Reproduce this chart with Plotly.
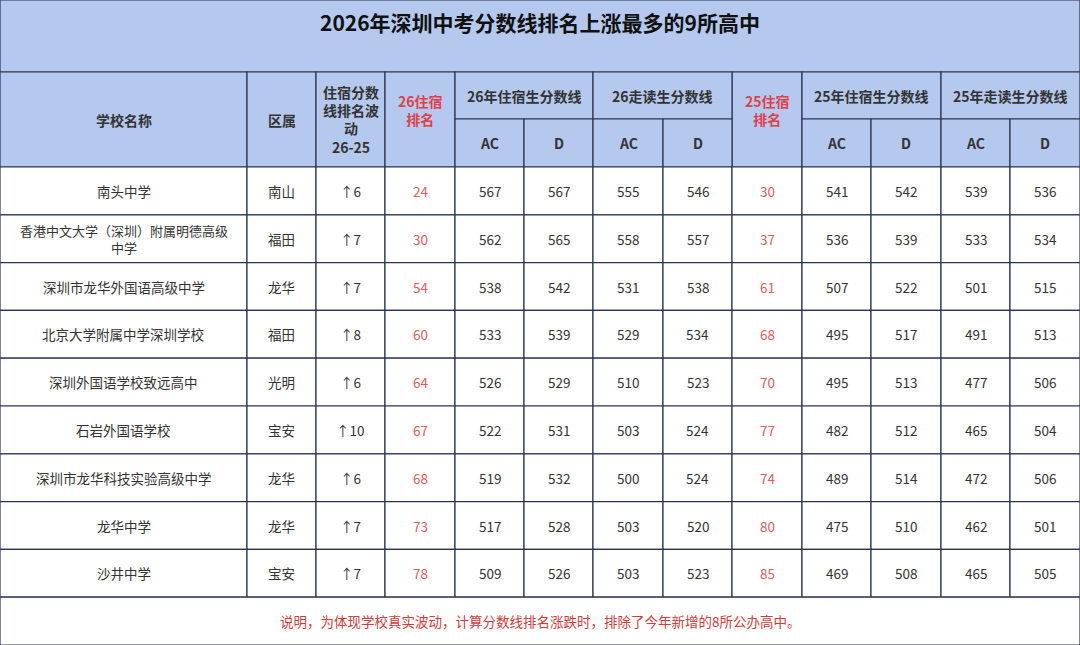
import plotly.graph_objects as go

title = "2026年深圳中考分数线排名上涨最多的9所高中"
schools = ["南头中学", "香港中文大学（深圳）附属明德高级<br>中学", "深圳市龙华外国语高级中学", "北京大学附属中学深圳学校",
           "深圳外国语学校致远高中", "石岩外国语学校", "深圳市龙华科技实验高级中学", "龙华中学", "沙井中学"]
districts = ["南山", "福田", "龙华", "福田", "光明", "宝安", "龙华", "龙华", "宝安"]
change = [6, 7, 7, 8, 6, 10, 6, 7, 7]
rank26 = [24, 30, 54, 60, 64, 67, 68, 73, 78]
b26_ac = [567, 562, 538, 533, 526, 522, 519, 517, 509]
b26_d = [567, 565, 542, 539, 529, 531, 532, 528, 526]
w26_ac = [555, 558, 531, 529, 510, 503, 500, 503, 503]
w26_d = [546, 557, 538, 534, 523, 524, 524, 520, 523]
rank25 = [30, 37, 61, 68, 70, 77, 74, 80, 85]
b25_ac = [541, 536, 507, 495, 495, 482, 489, 475, 469]
b25_d = [542, 539, 522, 517, 513, 512, 514, 510, 508]
w25_ac = [539, 533, 501, 491, 477, 465, 472, 462, 465]
w25_d = [536, 534, 515, 513, 506, 504, 506, 501, 505]
note = "说明，为体现学校真实波动，计算分数线排名涨跌时，排除了今年新增的8所公办高中。"

W, H = 1080, 645
xs = [0, 247, 316, 385, 455, 524, 593, 663, 732, 802, 871, 941, 1010, 1080]
y_title, y_head, y_sub, y_rows = 0, 72, 119, 167
row_h = 47.8
y_note = y_rows + row_h * len(schools)

HEAD = "#b5c8ee"
LINE = "#2b3550"
RED = "#e0404a"
RED2 = "#d9605a"
TXT = "#333333"
FONT = "Noto Sans CJK SC"

shapes, ann = [], []

def cell(x0, y0, x1, y1, fill):
    shapes.append(dict(type="rect", x0=x0, x1=x1, y0=y0, y1=y1, fillcolor=fill,
                       line=dict(color=LINE, width=1.2), layer="below"))

def text(x, y, t, size=13, color=TXT, bold=False):
    ann.append(dict(x=x, y=y, text=f"<b>{t}</b>" if bold else t, showarrow=False,
                    font=dict(size=size, color=color, family=FONT), xanchor="center", yanchor="middle"))

cell(0, y_title, W, y_head, HEAD)
text(W / 2, (y_title + y_head) / 2 - 14, title, size=21, color="#111111", bold=True)

full = {0: ("学校名称", TXT), 1: ("区属", TXT), 2: ("住宿分数<br>线排名波<br>动<br>26-25", TXT),
        3: ("26住宿<br>排名", RED), 8: ("25住宿<br>排名", RED)}
for i, (t, c) in full.items():
    cell(xs[i], y_head, xs[i + 1], y_rows, HEAD)
    text((xs[i] + xs[i + 1]) / 2, (y_head + y_rows) / 2 - (10 if i in (3, 8) else 0), t, size=14, color=c, bold=True)
groups = [(4, "26年住宿生分数线"), (6, "26走读生分数线"), (9, "25年住宿生分数线"), (11, "25年走读生分数线")]
for i, t in groups:
    cell(xs[i], y_head, xs[i + 2], y_sub, HEAD)
    text((xs[i] + xs[i + 2]) / 2, (y_head + y_sub) / 2, t, size=14, bold=True)
    for j, s in enumerate(["AC", "D"]):
        cell(xs[i + j], y_sub, xs[i + j + 1], y_rows, HEAD)
        text((xs[i + j] + xs[i + j + 1]) / 2, (y_sub + y_rows) / 2, s, size=14, bold=True)

cols = [schools, districts, ["↑" + str(v) for v in change], rank26, b26_ac, b26_d, w26_ac, w26_d,
        rank25, b25_ac, b25_d, w25_ac, w25_d]
for r in range(len(schools)):
    y0 = y_rows + r * row_h
    for c, vals in enumerate(cols):
        cell(xs[c], y0, xs[c + 1], y0 + row_h, "white")
        color = RED2 if c in (3, 8) else TXT
        size = 13 if (c == 0 and "<br>" in str(vals[r])) else 13.5
        text((xs[c] + xs[c + 1]) / 2, y0 + row_h / 2, str(vals[r]), size=size, color=color)

cell(0, y_note, W, H, "white")
text(W / 2, (y_note + H) / 2, note, size=13.5, color="#d23a3a")

fig = go.Figure()
fig.update_layout(autosize=True, margin=dict(l=0, r=0, t=0, b=0),
                  paper_bgcolor="white", plot_bgcolor="white",
                  xaxis=dict(range=[0, W], visible=False, fixedrange=True),
                  yaxis=dict(range=[H, 0], visible=False, fixedrange=True),
                  shapes=shapes, annotations=ann, showlegend=False)
fig.write_html("out.html", default_width="100vw", default_height="100vh",
               config=dict(displayModeBar=False, responsive=True),
               post_script="document.body.style.margin='0';document.body.style.overflow='hidden';"
                           "Plotly.Plots.resize(document.getElementById('{plot_id}'));")
